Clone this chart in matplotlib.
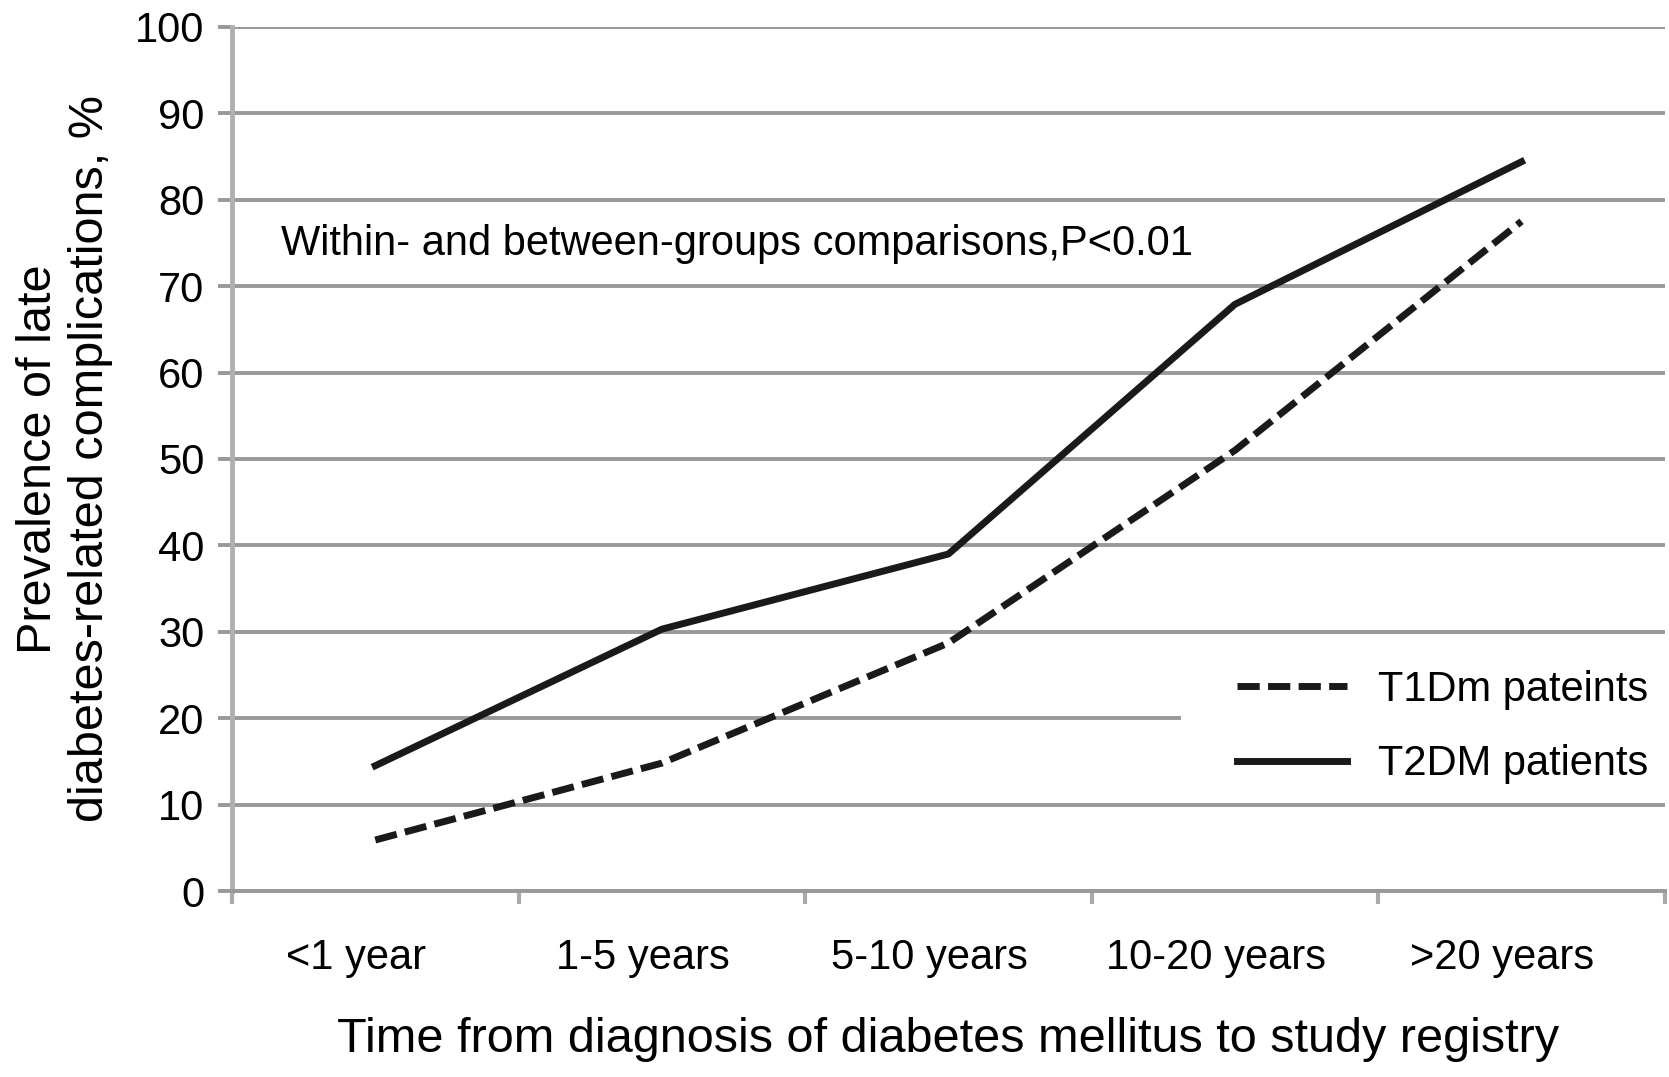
import matplotlib.pyplot as plt
import matplotlib.transforms as mtransforms
import numpy as np
from matplotlib.patches import Rectangle

plt.rcParams['font.family'] = ['Liberation Sans', 'DejaVu Sans']

categories = ['<1 year', '1-5 years', '5-10 years', '10-20 years', '>20 years']
t1dm = [5.9, 14.8, 28.7, 51.0, 77.5]
t2dm = [14.5, 30.3, 39.0, 67.9, 84.4]
yticks = list(range(0, 101, 10))

fig = plt.figure(figsize=(16.69, 10.77), dpi=100)
ax = fig.add_axes([0.139, 0.1727, 0.8585, 0.8023])

x = np.arange(len(categories))
ax.plot(x, t1dm, color='#1a1a1a', lw=5, dashes=(3.2, 1.2), label='T1Dm pateints')
ax.plot(x, t2dm, color='#1a1a1a', lw=5, label='T2DM patients')

ax.set_xlim(-0.5, len(categories) - 0.5)
ax.set_ylim(0, 100)
ax.set_yticks(yticks)
ax.yaxis.grid(True, color='#999999', lw=2.8)
ax.set_axisbelow(True)

for s in ['top', 'right']:
    ax.spines[s].set_visible(False)
ax.spines['left'].set_color('#b0b0b0')
ax.spines['left'].set_linewidth(3.5)
ax.spines['bottom'].set_color('#999999')
ax.spines['bottom'].set_linewidth(2.8)

# category boundaries as ticks, labels in the middle
ax.set_xticks(np.arange(-0.5, len(categories), 1))
ax.set_xticklabels([])
ax.set_xticks(x, minor=True)
ax.set_xticklabels(categories, minor=True)
ax.tick_params(axis='x', which='major', length=9, width=3, color='#aaaaaa')
ax.tick_params(axis='x', which='minor', length=0, pad=34, labelsize=30)
ax.tick_params(axis='y', length=10, width=2.8, color='#999999', pad=10, labelsize=30)

# the original labels sit a little left of the category centres
shift = mtransforms.ScaledTranslation(-14 / 72, 0, fig.dpi_scale_trans)
for t in ax.xaxis.get_minor_ticks():
    t.label1.set_transform(t.label1.get_transform() + shift)

ax.set_xlabel('Time from diagnosis of diabetes mellitus to study registry',
              fontsize=35, labelpad=28)
ax.set_ylabel('Prevalence of late\ndiabetes-related complications, %',
              fontsize=35, labelpad=16, linespacing=1.2)

ax.text(-0.33, 74.9, 'Within- and between-groups comparisons,P<0.01',
        fontsize=30, va='center', ha='left')

# white area behind the legend (hides the 20% gridline there)
ax.add_patch(Rectangle((0.662, 0.165), 0.34, 0.075, transform=ax.transAxes,
                       facecolor='white', edgecolor='none', zorder=1, clip_on=False))
ax.legend(loc='center right', bbox_to_anchor=(0.997, 0.19), fontsize=30,
          frameon=False, handlelength=2.63, handletextpad=0.75, labelspacing=0.83,
          borderpad=0.2, borderaxespad=0.1)

fig.savefig('out.png', dpi=100)
